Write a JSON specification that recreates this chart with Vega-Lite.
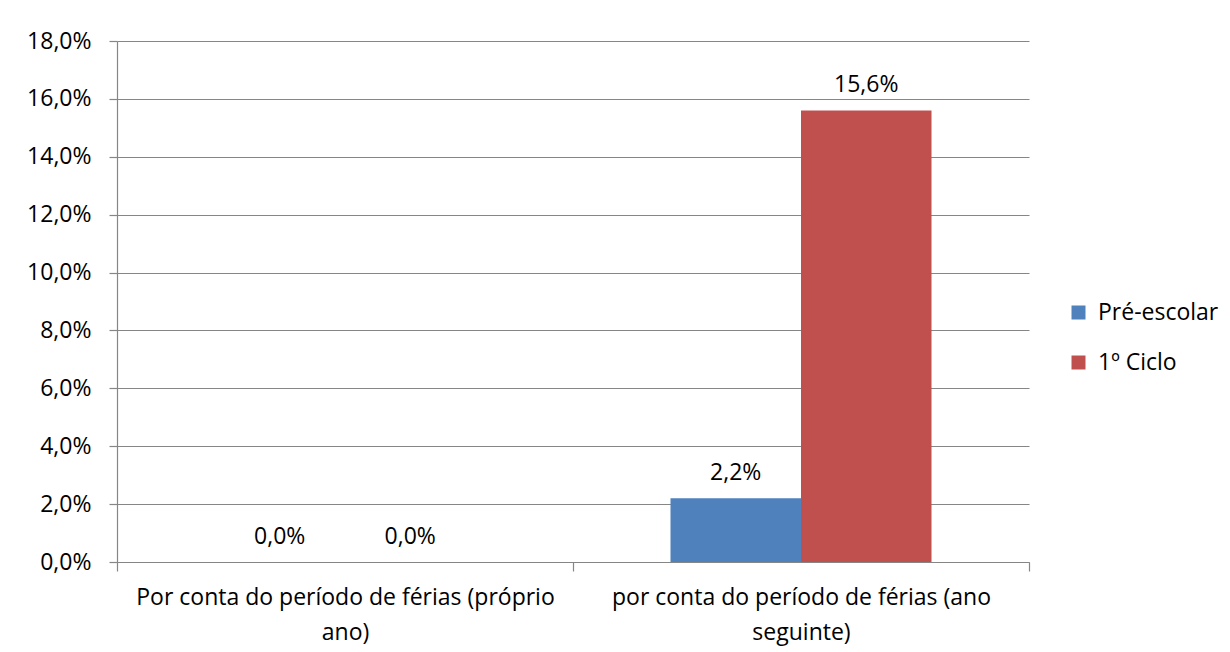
{
  "$schema": "https://vega.github.io/schema/vega-lite/v6.json",
  "autosize": {"type": "none"},
  "width": 912,
  "height": 521,
  "padding": {"left": 117, "top": 41, "right": 201, "bottom": 90},
  "background": "white",
  "data": {
    "values": [
      {"categoria": "Por conta do período de férias (próprio ano)", "nivel": "Pré-escolar", "valor": 0.0},
      {"categoria": "Por conta do período de férias (próprio ano)", "nivel": "1º Ciclo", "valor": 0.0},
      {"categoria": "por conta do período de férias (ano seguinte)", "nivel": "Pré-escolar", "valor": 0.022},
      {"categoria": "por conta do período de férias (ano seguinte)", "nivel": "1º Ciclo", "valor": 0.156}
    ]
  },
  "encoding": {
    "x": {
      "field": "categoria",
      "type": "nominal",
      "sort": null,
      "scale": {"paddingInner": 0, "paddingOuter": 0},
      "axis": {
        "title": null,
        "labelAngle": 0,
        "labelFont": "Open Sans",
        "labelFontSize": 23,
        "labelColor": "#000000",
        "labelPadding": 15,
        "labelLineHeight": 35,
        "labelLimit": 0,
        "labelOverlap": false,
        "labelExpr": "datum.value == 'Por conta do período de férias (próprio ano)' ? ['Por conta do período de férias (próprio', 'ano)'] : datum.value == 'por conta do período de férias (ano seguinte)' ? ['por conta do período de férias (ano', 'seguinte)'] : ''",
        "domainColor": "#868686",
        "tickColor": "#868686",
        "tickSize": 9,
        "tickBand": "extent",
        "grid": false
      }
    },
    "xOffset": {"field": "nivel", "type": "nominal", "sort": ["Pré-escolar", "1º Ciclo"], "scale": {"paddingInner": 0, "paddingOuter": 0.747}},
    "y": {
      "field": "valor",
      "type": "quantitative",
      "scale": {"domain": [0, 0.18], "nice": false},
      "axis": {
        "title": null,
        "values": [0, 0.02, 0.04, 0.06, 0.08, 0.1, 0.12, 0.14, 0.16, 0.18],
        "labelExpr": "replace(format(datum.value, '.1%'), '.', ',')",
        "labelFont": "Open Sans",
        "labelFontSize": 23,
        "labelColor": "#000000",
        "labelPadding": 18,
        "tickSize": 8,
        "tickColor": "#868686",
        "domainColor": "#868686",
        "gridColor": "#868686",
        "gridWidth": 1.2
      }
    }
  },
  "layer": [
    {
      "mark": {"type": "bar"},
      "encoding": {
        "color": {
          "field": "nivel",
          "type": "nominal",
          "sort": ["Pré-escolar", "1º Ciclo"],
          "scale": {"domain": ["Pré-escolar", "1º Ciclo"], "range": ["#4F81BD", "#C0504D"]},
          "legend": {
            "title": null,
            "orient": "none",
            "legendX": 950,
            "legendY": 260,
            "symbolType": "square",
            "symbolSize": 196,
            "symbolStrokeWidth": 0,
            "labelFont": "Open Sans",
            "labelFontSize": 23,
            "labelColor": "#000000",
            "labelOffset": 8,
            "rowPadding": 26
          }
        }
      }
    },
    {
      "mark": {"type": "text", "baseline": "middle", "dy": -25, "font": "Open Sans", "fontSize": 23, "color": "#000000"},
      "encoding": {
        "text": {"field": "valor", "type": "quantitative", "format": ".1%"}
      }
    }
  ],
  "config": {
    "locale": {"number": {"decimal": ",", "thousands": ".", "grouping": [3], "currency": ["", " €"]}},
    "view": {"stroke": null},
    "axis": {"domainWidth": 1.2, "tickWidth": 1.2}
  }
}
